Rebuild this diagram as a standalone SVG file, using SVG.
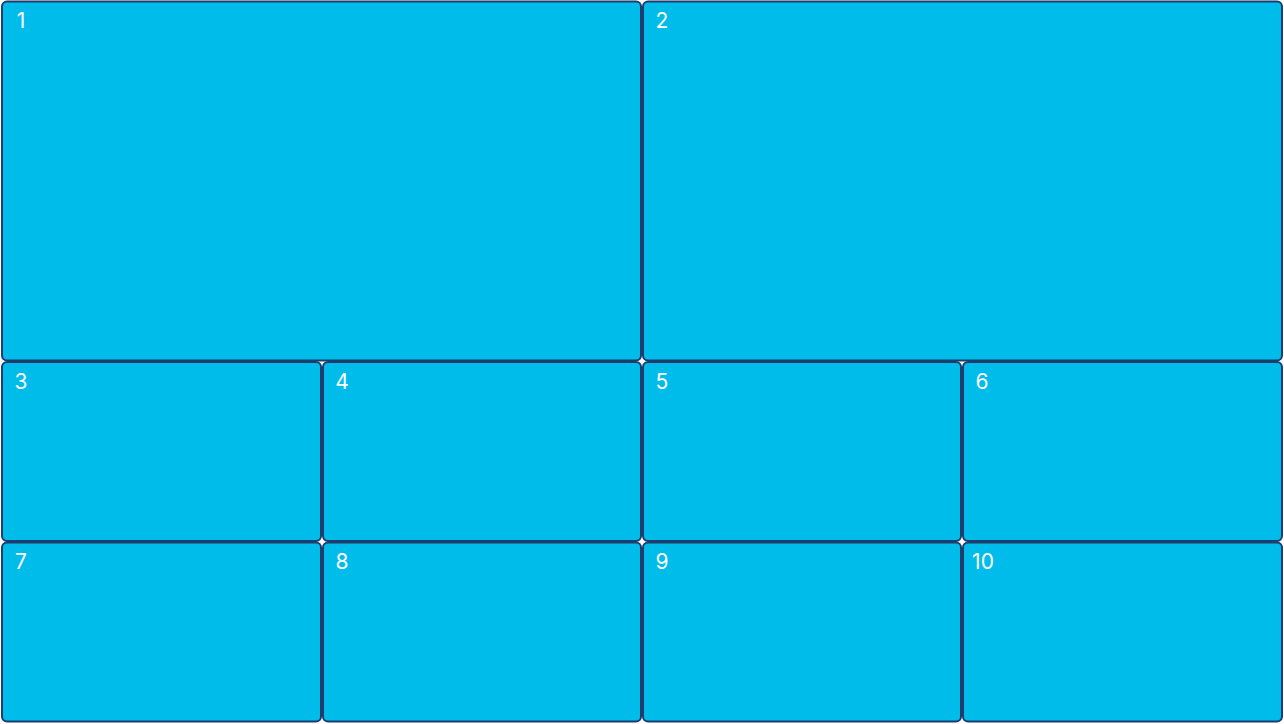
<svg xmlns="http://www.w3.org/2000/svg" width="1284" height="724" viewBox="0 0 1284 724">
<style>
.cell{fill:#00BCEB;stroke:#1E3D6D;stroke-width:2}
.lbl{fill:#FFFFFF;font-family:Inter,"Noto Sans",sans-serif;font-size:21px;text-anchor:middle}
</style>
<rect width="1284" height="724" fill="#FFFFFF"/>
<g id="node1"><rect class="cell" x="2" y="1.5" width="639" height="359" rx="5"/><text class="lbl" x="21" y="28">1</text></g>
<g id="node2"><rect class="cell" x="643" y="1.5" width="639" height="359" rx="5"/><text class="lbl" x="662" y="28">2</text></g>
<g id="node3"><rect class="cell" x="2" y="362" width="319" height="179" rx="5"/><text class="lbl" x="21" y="389">3</text></g>
<g id="node4"><rect class="cell" x="323" y="362" width="318" height="179" rx="5"/><text class="lbl" x="342" y="389">4</text></g>
<g id="node5"><rect class="cell" x="643" y="362" width="318" height="179" rx="5"/><text class="lbl" x="662" y="389">5</text></g>
<g id="node6"><rect class="cell" x="963" y="362" width="319" height="179" rx="5"/><text class="lbl" x="982" y="389">6</text></g>
<g id="node7"><rect class="cell" x="2" y="542.5" width="319" height="179" rx="5"/><text class="lbl" x="21" y="569">7</text></g>
<g id="node8"><rect class="cell" x="323" y="542.5" width="318" height="179" rx="5"/><text class="lbl" x="342" y="569">8</text></g>
<g id="node9"><rect class="cell" x="643" y="542.5" width="318" height="179" rx="5"/><text class="lbl" x="662" y="569">9</text></g>
<g id="node10"><rect class="cell" x="963" y="542.5" width="319" height="179" rx="5"/><text class="lbl" x="983" y="569">10</text></g>
<g id="connectors"></g>
</svg>
